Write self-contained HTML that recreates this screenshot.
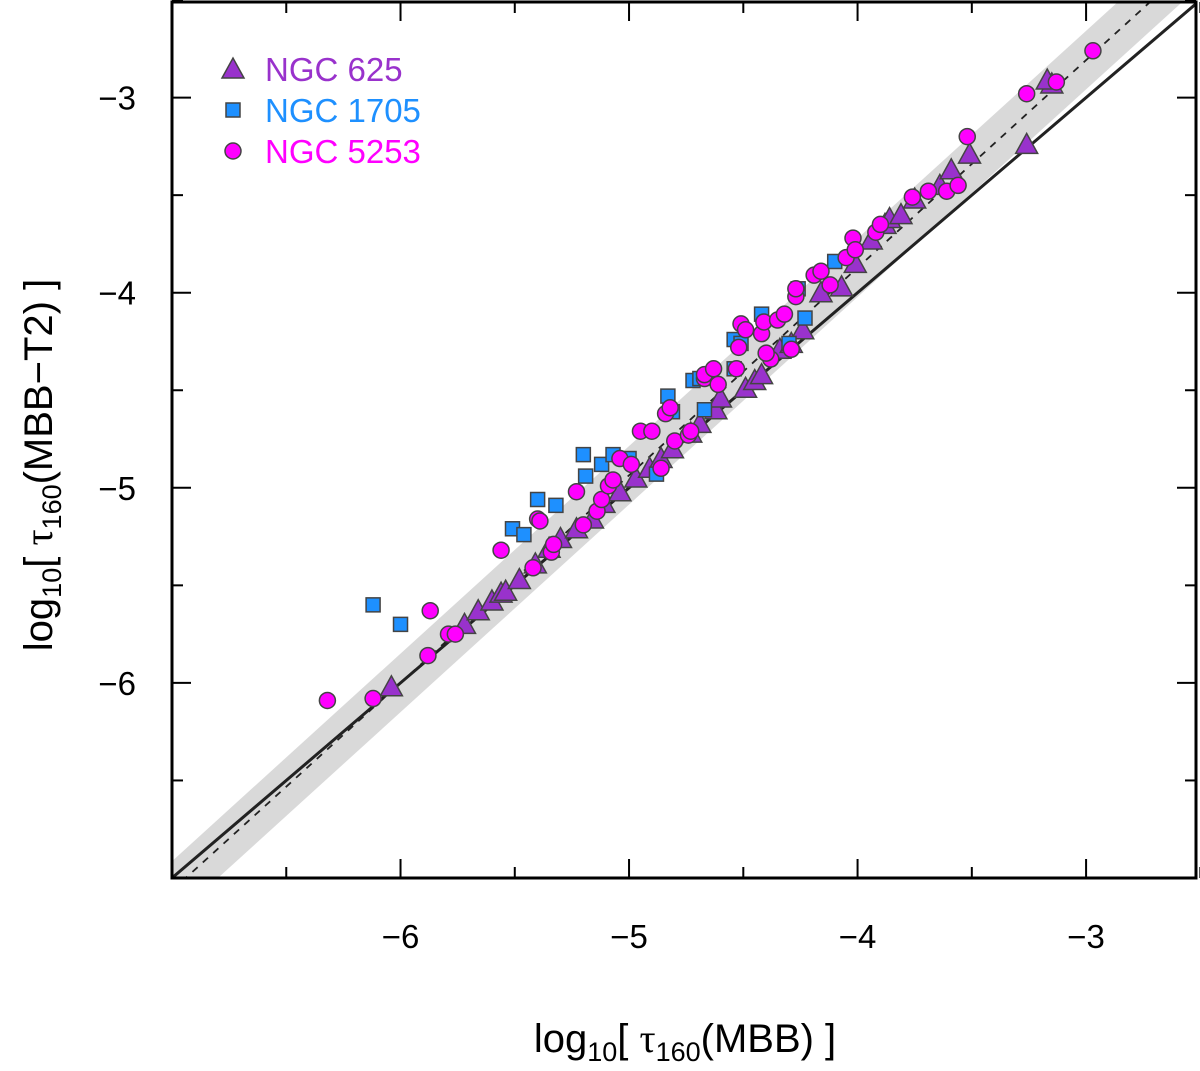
<!DOCTYPE html>
<html><head><meta charset="utf-8"><style>
body{margin:0;background:#fff}
svg{display:block;font-family:"Liberation Sans",Arial,sans-serif}
</style></head><body>
<svg id="chart" width="1200" height="1071" viewBox="0 0 1200 1071">
<defs><clipPath id="clip"><rect x="172" y="2" width="1024" height="876"/></clipPath></defs>
<g id="plot" clip-path="url(#clip)"></g>
<g id="axes"></g>
<text x="685" y="1052" font-size="40" text-anchor="middle">log<tspan font-size="27" dy="9">10</tspan><tspan dy="-9">[ </tspan><tspan font-family="Liberation Serif,serif">τ</tspan><tspan font-size="27" dy="9">160</tspan><tspan dy="-9">(MBB) ]</tspan></text>
<text transform="translate(52,465) rotate(-90)" font-size="40" text-anchor="middle">log<tspan font-size="27" dy="9">10</tspan><tspan dy="-9">[ </tspan><tspan font-family="Liberation Serif,serif">τ</tspan><tspan font-size="27" dy="9">160</tspan><tspan dy="-9">(MBB−T2) ]</tspan></text>
<g>
<polygon points="222,78 244,78 233,58" fill="#9932CC" stroke="#444" stroke-width="1.5"/>
<text x="265" y="81" font-size="33" fill="#9932CC">NGC 625</text>
<rect x="226" y="103" width="14" height="14" fill="#1E90FF" stroke="#444" stroke-width="1.5"/>
<text x="265" y="122" font-size="33" fill="#1E90FF">NGC 1705</text>
<circle cx="233" cy="151" r="8" fill="#FF00FF" stroke="#444" stroke-width="1.5"/>
<text x="265" y="163" font-size="33" fill="#FF00FF">NGC 5253</text>
</g>
</svg>
<script>
const xTicks=[-6,-5,-4,-3];
const yTicks=[-6,-5,-4,-3];
const n625X=[-6.04,-5.72,-5.66,-5.60,-5.56,-5.54,-5.48,-5.41,-5.35,-5.30,-5.23,-5.16,-5.11,-5.04,-4.97,-4.91,-4.86,-4.81,-4.73,-4.69,-4.62,-4.60,-4.49,-4.45,-4.42,-4.34,-4.29,-4.24,-4.16,-4.07,-4.01,-3.94,-3.88,-3.86,-3.81,-3.75,-3.64,-3.59,-3.51,-3.26,-3.15,-3.17];
const n625Y=[-6.02,-5.70,-5.63,-5.58,-5.54,-5.53,-5.47,-5.39,-5.31,-5.26,-5.21,-5.16,-5.08,-5.02,-4.95,-4.90,-4.85,-4.80,-4.72,-4.67,-4.60,-4.54,-4.49,-4.45,-4.42,-4.29,-4.26,-4.19,-4.00,-3.97,-3.85,-3.73,-3.65,-3.62,-3.60,-3.52,-3.45,-3.37,-3.29,-3.24,-2.93,-2.91];
const n1705X=[-6.12,-6.00,-5.51,-5.46,-5.40,-5.32,-5.20,-5.19,-5.12,-5.07,-5.00,-4.88,-4.83,-4.81,-4.72,-4.69,-4.67,-4.54,-4.51,-4.54,-4.42,-4.30,-4.26,-4.10,-4.23];
const n1705Y=[-5.60,-5.70,-5.21,-5.24,-5.06,-5.09,-4.83,-4.94,-4.88,-4.83,-4.85,-4.93,-4.53,-4.61,-4.45,-4.44,-4.60,-4.24,-4.26,-4.39,-4.11,-4.26,-3.98,-3.84,-4.13];
const n5253X=[-6.32,-6.12,-5.88,-5.87,-5.79,-5.76,-5.56,-5.42,-5.40,-5.39,-5.34,-5.33,-5.23,-5.20,-5.14,-5.12,-5.09,-5.07,-5.04,-4.99,-4.95,-4.90,-4.86,-4.84,-4.82,-4.80,-4.74,-4.73,-4.67,-4.67,-4.63,-4.61,-4.52,-4.51,-4.49,-4.42,-4.41,-4.38,-4.35,-4.32,-4.29,-4.27,-4.27,-4.19,-4.12,-4.05,-4.02,-3.92,-3.90,-3.76,-3.69,-3.61,-3.56,-3.52,-3.26,-3.13,-2.97,-4.16,-4.01,-4.53,-4.40];
const n5253Y=[-6.09,-6.08,-5.86,-5.63,-5.75,-5.75,-5.32,-5.41,-5.16,-5.17,-5.33,-5.29,-5.02,-5.19,-5.12,-5.06,-4.99,-4.96,-4.85,-4.88,-4.71,-4.71,-4.90,-4.62,-4.59,-4.76,-4.73,-4.71,-4.44,-4.42,-4.39,-4.47,-4.28,-4.16,-4.19,-4.21,-4.15,-4.34,-4.14,-4.11,-4.29,-4.02,-3.98,-3.91,-3.96,-3.82,-3.72,-3.69,-3.65,-3.51,-3.48,-3.48,-3.45,-3.20,-2.98,-2.92,-2.76,-3.89,-3.78,-4.39,-4.31];
const fitSlope=1.064, fitX0=-6.94, fitY0=-7, bandHalf=0.15;
const X0=172,X1=1196,Y0=878,Y1=2, xmin=-7,xmax=-2.519,ymin=-7,ymax=-2.51;
const sx=v=>X0+(v-xmin)/(xmax-xmin)*(X1-X0);
const sy=v=>Y0-(v-ymin)/(ymax-ymin)*(Y0-Y1);
const NS='http://www.w3.org/2000/svg';
const plot=document.getElementById('plot'), axes=document.getElementById('axes');
function mk(tag,attrs,parent){const e=document.createElementNS(NS,tag);for(const k in attrs)e.setAttribute(k,attrs[k]);parent.appendChild(e);return e;}
const fit=x=>fitY0+fitSlope*(x-fitX0);
const xa=-7.5,xb=-2;
let band=mk('polygon',{points:`${sx(xa)},${sy(fit(xa)+bandHalf)} ${sx(xb)},${sy(fit(xb)+bandHalf)} ${sx(xb)},${sy(fit(xb)-bandHalf)} ${sx(xa)},${sy(fit(xa)-bandHalf)}`,fill:'#d9d9d9'},plot);


let one=mk('line',{x1:sx(xa),y1:sy(xa),x2:sx(xb),y2:sy(xb),stroke:'#222','stroke-width':3},plot);


let fl=mk('line',{x1:sx(xa),y1:sy(fit(xa)),x2:sx(xb),y2:sy(fit(xb)),stroke:'#222','stroke-width':1.8,'stroke-dasharray':'7,7'},plot);


n625X.forEach((v,i)=>{const x=sx(v),y=sy(n625Y[i]);
 const p=mk('polygon',{points:`${x-11},${y+9} ${x+11},${y+9} ${x},${y-11}`,fill:'#9932CC',stroke:'#444','stroke-width':1.5},plot);
 
 });
n1705X.forEach((v,i)=>{const x=sx(v),y=sy(n1705Y[i]);
 const p=mk('rect',{x:x-7,y:y-7,width:14,height:14,fill:'#1E90FF',stroke:'#444','stroke-width':1.5},plot);
 
 });
n5253X.forEach((v,i)=>{const x=sx(v),y=sy(n5253Y[i]);
 const p=mk('circle',{cx:x,cy:y,r:8,fill:'#FF00FF',stroke:'#444','stroke-width':1.5},plot);
 
 });
let fr=mk('rect',{x:X0,y:Y1,width:X1-X0,height:Y0-Y1,fill:'none',stroke:'#000','stroke-width':3},axes);


for(let v=-7;v<=-2.5;v+=0.5){const major=Number.isInteger(v),L=major?19:11;
 const x=sx(v),y=sy(v);
 mk('line',{x1:x,y1:Y0,x2:x,y2:Y0-L,stroke:'#000','stroke-width':2},axes);
 mk('line',{x1:x,y1:Y1,x2:x,y2:Y1+L,stroke:'#000','stroke-width':2},axes);
 mk('line',{x1:X0,y1:y,x2:X0+L,y2:y,stroke:'#000','stroke-width':2},axes);
 mk('line',{x1:X1,y1:y,x2:X1-L,y2:y,stroke:'#000','stroke-width':2},axes);}
xTicks.forEach(v=>{const t=mk('text',{x:sx(v),y:948,'font-size':33,'text-anchor':'middle'},axes);t.textContent='−'+Math.abs(v);
 
 });
yTicks.forEach(v=>{const t=mk('text',{x:136,y:sy(v)+12,'font-size':33,'text-anchor':'end'},axes);t.textContent='−'+Math.abs(v);
 
 });
</script>
</body></html>
